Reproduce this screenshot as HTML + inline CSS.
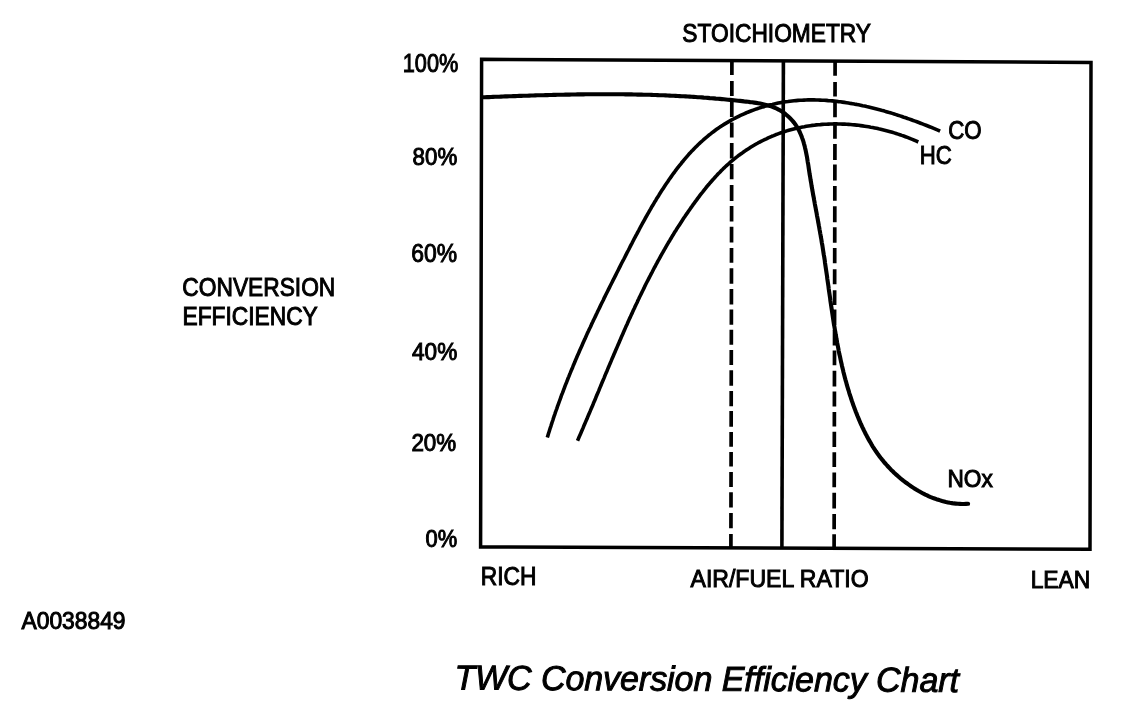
<!DOCTYPE html>
<html><head><meta charset="utf-8"><style>
html,body{margin:0;padding:0;background:#fff;width:1136px;height:716px;overflow:hidden}
svg{display:block;will-change:transform}
text{font-family:"Liberation Sans",sans-serif;fill:#000}
</style></head><body>
<svg width="1136" height="716" viewBox="0 0 1136 716">
<rect width="1136" height="716" fill="#fff"/>
<polygon points="481.6,59.3 1091,62.5 1090,549.3 480.6,547.0" fill="none" stroke="#000" stroke-width="3.5" stroke-linejoin="miter"/>
<line x1="783.4" y1="61" x2="781.9" y2="548" stroke="#000" stroke-width="3.6"/>
<path d="M731.90,61.0 L731.87,75.0 M731.86,81.0 L731.83,96.0 M731.82,101.5 L731.78,117.0 M731.77,122.5 L731.74,137.5 M731.73,143.0 L731.70,158.5 M731.69,164.0 L731.66,179.3 M731.64,185.1 L731.61,201.0 M731.60,206.1 L731.57,221.5 M731.56,226.8 L731.53,242.6 M731.52,248.1 L731.48,262.7 M731.47,268.2 L731.44,283.7 M731.43,289.1 L731.40,304.5 M731.39,309.6 L731.36,324.8 M731.35,329.7 L731.32,344.8 M731.31,350.0 L731.27,364.9 M731.26,370.2 L731.23,385.8 M731.22,391.1 L731.19,406.2 M731.18,411.0 L731.15,426.7 M731.14,431.9 L731.11,446.8 M731.10,452.1 L731.07,466.5 M731.05,472.1 L731.02,486.9 M731.01,492.2 L730.98,507.5 M730.97,513.1 L730.94,528.3 M730.93,534.0 L730.90,547.0" fill="none" stroke="#000" stroke-width="3.7"/>
<path d="M835.10,62.0 L835.07,75.7 M835.06,81.9 L835.03,96.5 M835.02,101.5 L834.99,117.2 M834.98,122.6 L834.94,138.7 M834.93,144.1 L834.90,160.0 M834.89,164.5 L834.86,180.5 M834.84,186.1 L834.81,200.8 M834.80,206.2 L834.77,222.3 M834.76,227.2 L834.73,242.8 M834.72,248.0 L834.69,263.3 M834.67,269.2 L834.64,284.3 M834.63,290.2 L834.60,305.1 M834.59,309.5 L834.56,325.0 M834.55,330.0 L834.52,345.5 M834.51,350.5 L834.48,365.3 M834.46,370.8 L834.43,386.5 M834.42,391.5 L834.39,406.5 M834.38,412.0 L834.35,426.5 M834.34,431.8 L834.31,447.0 M834.30,452.3 L834.27,467.0 M834.26,472.5 L834.22,487.3 M834.21,492.8 L834.18,508.5 M834.17,514.1 L834.14,529.2 M834.13,534.2 L834.10,548.0" fill="none" stroke="#000" stroke-width="3.7"/>
<g fill="none" stroke="#000" stroke-width="3.6" stroke-linecap="butt" stroke-linejoin="round">
<path d="M547.3,437.5 L547.9,435.6 L548.5,433.6 L549.1,431.7 L549.7,429.7 L550.3,427.8 L551.0,425.8 L551.6,423.9 L552.2,422.0 L552.9,420.1 L553.5,418.1 L554.1,416.2 L554.8,414.3 L555.4,412.4 L556.1,410.5 L556.8,408.6 L557.4,406.7 L558.1,404.8 L558.8,402.9 L559.5,401.0 L560.2,399.1 L560.9,397.2 L561.5,395.3 L562.3,393.4 L563.0,391.6 L563.7,389.7 L564.4,387.8 L565.1,385.9 L565.8,384.1 L566.6,382.2 L567.3,380.3 L568.0,378.5 L568.8,376.6 L569.5,374.8 L570.3,372.9 L571.0,371.1 L571.8,369.2 L572.6,367.4 L573.3,365.5 L574.1,363.7 L574.9,361.8 L575.6,360.0 L576.4,358.2 L577.2,356.3 L578.0,354.5 L578.8,352.7 L579.6,350.8 L580.4,349.0 L581.2,347.2 L582.0,345.4 L582.8,343.5 L583.6,341.7 L584.4,339.9 L585.3,338.1 L586.1,336.3 L586.9,334.4 L587.7,332.6 L588.6,330.8 L589.4,329.0 L590.3,327.2 L591.1,325.4 L591.9,323.6 L592.8,321.8 L593.6,320.0 L594.5,318.2 L595.4,316.4 L596.2,314.6 L597.1,312.8 L597.9,311.0 L598.8,309.2 L599.7,307.4 L600.5,305.6 L601.4,303.8 L602.3,302.0 L603.2,300.2 L604.0,298.4 L604.9,296.6 L605.8,294.8 L606.7,293.0 L607.6,291.2 L608.5,289.4 L609.4,287.6 L610.3,285.8 L611.2,284.0 L612.1,282.2 L613.0,280.4 L613.9,278.7 L614.8,276.9 L615.7,275.1 L616.6,273.3 L617.5,271.5 L618.4,269.7 L619.3,267.9 L620.2,266.1 L621.1,264.3 L622.0,262.5 L623.0,260.7 L623.9,259.0 L624.8,257.2 L625.7,255.4 L626.6,253.6 L627.5,251.8 L628.5,250.0 L629.4,248.2 L630.3,246.4 L631.2,244.6 L632.2,242.8 L633.1,241.0 L634.0,239.2 L635.0,237.4 L635.9,235.7 L636.9,233.9 L637.8,232.1 L638.8,230.3 L639.7,228.5 L640.7,226.7 L641.6,225.0 L642.6,223.2 L643.6,221.4 L644.6,219.6 L645.5,217.9 L646.5,216.1 L647.5,214.3 L648.5,212.6 L649.5,210.8 L650.5,209.1 L651.5,207.3 L652.6,205.6 L653.6,203.8 L654.6,202.1 L655.7,200.4 L656.7,198.6 L657.8,196.9 L658.9,195.2 L659.9,193.5 L661.0,191.8 L662.1,190.1 L663.2,188.4 L664.3,186.7 L665.4,185.0 L666.6,183.3 L667.7,181.7 L668.8,180.0 L670.0,178.3 L671.2,176.7 L672.3,175.0 L673.5,173.4 L674.7,171.8 L675.9,170.1 L677.1,168.5 L678.4,166.9 L679.6,165.4 L680.9,163.8 L682.1,162.2 L683.4,160.7 L684.7,159.1 L686.0,157.6 L687.3,156.1 L688.6,154.6 L690.0,153.1 L691.3,151.6 L692.7,150.2 L694.1,148.7 L695.5,147.3 L696.9,145.9 L698.3,144.5 L699.8,143.1 L701.2,141.8 L702.7,140.5 L704.2,139.1 L705.7,137.8 L707.2,136.6 L708.7,135.3 L710.3,134.1 L711.8,132.9 L713.4,131.7 L715.0,130.5 L716.6,129.3 L718.2,128.2 L719.9,127.1 L721.5,126.0 L723.2,124.9 L724.9,123.9 L726.6,122.9 L728.3,121.9 L730.0,120.9 L731.7,119.9 L733.4,119.0 L735.2,118.1 L737.0,117.2 L738.7,116.3 L740.5,115.4 L742.3,114.6 L744.1,113.8 L745.9,113.0 L747.8,112.2 L749.6,111.5 L751.5,110.8 L753.3,110.1 L755.2,109.4 L757.1,108.8 L758.9,108.1 L760.8,107.5 L762.7,106.9 L764.6,106.4 L766.5,105.8 L768.5,105.3 L770.4,104.8 L772.3,104.4 L774.3,103.9 L776.2,103.5 L778.2,103.1 L780.1,102.7 L782.1,102.4 L784.1,102.0 L786.0,101.7 L788.0,101.5 L790.0,101.2 L792.0,101.0 L794.0,100.8 L796.0,100.6 L798.0,100.4 L800.0,100.3 L802.0,100.2 L804.0,100.1 L806.0,100.0 L808.0,99.9 L810.0,99.9 L812.0,99.9 L814.1,99.9 L816.1,100.0 L818.1,100.0 L820.1,100.1 L822.1,100.2 L824.2,100.3 L826.2,100.4 L828.2,100.6 L830.3,100.7 L832.3,100.9 L834.3,101.1 L836.3,101.3 L838.4,101.6 L840.4,101.8 L842.4,102.1 L844.4,102.4 L846.5,102.7 L848.5,103.0 L850.5,103.4 L852.5,103.7 L854.6,104.1 L856.6,104.4 L858.6,104.8 L860.6,105.2 L862.6,105.7 L864.6,106.1 L866.6,106.6 L868.6,107.0 L870.6,107.5 L872.6,108.0 L874.6,108.5 L876.6,109.0 L878.5,109.5 L880.5,110.0 L882.5,110.6 L884.5,111.1 L886.4,111.7 L888.4,112.3 L890.3,112.8 L892.3,113.4 L894.2,114.0 L896.1,114.6 L898.0,115.3 L900.0,115.9 L901.9,116.5 L903.8,117.2 L905.7,117.8 L907.6,118.5 L909.5,119.1 L911.3,119.8 L913.2,120.5 L915.1,121.1 L916.9,121.8 L918.8,122.5 L920.6,123.2 L922.4,123.9 L924.2,124.6 L926.0,125.3 L927.8,126.0 L929.6,126.7 L931.4,127.4 L933.2,128.2 L934.9,128.9 L936.7,129.6 L938.4,130.3 L940.1,131.1"/>
<path d="M577.5,440.7 L578.3,438.9 L579.1,437.0 L579.9,435.2 L580.7,433.4 L581.5,431.6 L582.3,429.8 L583.1,427.9 L583.8,426.1 L584.6,424.3 L585.4,422.4 L586.2,420.6 L587.0,418.8 L587.7,416.9 L588.5,415.1 L589.3,413.3 L590.1,411.4 L590.8,409.6 L591.6,407.7 L592.4,405.9 L593.2,404.0 L593.9,402.2 L594.7,400.4 L595.5,398.5 L596.2,396.7 L597.0,394.8 L597.8,393.0 L598.6,391.1 L599.3,389.3 L600.1,387.4 L600.9,385.6 L601.6,383.7 L602.4,381.8 L603.2,380.0 L604.0,378.1 L604.7,376.3 L605.5,374.4 L606.3,372.6 L607.1,370.7 L607.8,368.9 L608.6,367.0 L609.4,365.1 L610.2,363.3 L611.0,361.4 L611.7,359.6 L612.5,357.7 L613.3,355.9 L614.1,354.0 L614.9,352.2 L615.7,350.3 L616.5,348.5 L617.3,346.6 L618.1,344.7 L618.9,342.9 L619.7,341.0 L620.5,339.2 L621.3,337.3 L622.1,335.5 L622.9,333.7 L623.7,331.8 L624.5,330.0 L625.3,328.1 L626.1,326.3 L627.0,324.4 L627.8,322.6 L628.6,320.8 L629.4,318.9 L630.3,317.1 L631.1,315.2 L632.0,313.4 L632.8,311.6 L633.6,309.8 L634.5,307.9 L635.3,306.1 L636.2,304.3 L637.1,302.4 L637.9,300.6 L638.8,298.8 L639.6,297.0 L640.5,295.2 L641.4,293.4 L642.3,291.5 L643.2,289.7 L644.1,287.9 L644.9,286.1 L645.8,284.3 L646.7,282.5 L647.7,280.7 L648.6,278.9 L649.5,277.1 L650.4,275.4 L651.3,273.6 L652.3,271.8 L653.2,270.0 L654.1,268.2 L655.1,266.5 L656.0,264.7 L657.0,262.9 L657.9,261.1 L658.9,259.4 L659.9,257.6 L660.8,255.9 L661.8,254.1 L662.8,252.4 L663.8,250.6 L664.8,248.9 L665.8,247.1 L666.8,245.4 L667.8,243.7 L668.8,241.9 L669.9,240.2 L670.9,238.5 L671.9,236.8 L673.0,235.1 L674.0,233.3 L675.1,231.6 L676.2,229.9 L677.2,228.2 L678.3,226.6 L679.4,224.9 L680.5,223.2 L681.6,221.5 L682.7,219.8 L683.8,218.1 L684.9,216.5 L686.0,214.8 L687.2,213.2 L688.3,211.5 L689.4,209.9 L690.6,208.2 L691.8,206.6 L692.9,204.9 L694.1,203.3 L695.3,201.7 L696.5,200.1 L697.7,198.4 L698.9,196.8 L700.1,195.2 L701.3,193.6 L702.6,192.1 L703.8,190.5 L705.1,188.9 L706.3,187.3 L707.6,185.8 L708.9,184.3 L710.2,182.7 L711.5,181.2 L712.8,179.7 L714.2,178.2 L715.5,176.7 L716.9,175.3 L718.2,173.8 L719.6,172.4 L721.0,170.9 L722.5,169.5 L723.9,168.1 L725.3,166.8 L726.8,165.4 L728.3,164.1 L729.8,162.7 L731.3,161.4 L732.8,160.2 L734.3,158.9 L735.9,157.6 L737.5,156.4 L739.0,155.2 L740.7,154.0 L742.3,152.9 L743.9,151.7 L745.6,150.6 L747.2,149.5 L748.9,148.4 L750.6,147.3 L752.3,146.3 L754.0,145.3 L755.7,144.3 L757.5,143.3 L759.2,142.3 L761.0,141.4 L762.8,140.5 L764.6,139.6 L766.4,138.8 L768.2,137.9 L770.0,137.1 L771.8,136.3 L773.7,135.6 L775.5,134.8 L777.4,134.1 L779.3,133.4 L781.1,132.7 L783.0,132.1 L784.9,131.5 L786.8,130.9 L788.8,130.3 L790.7,129.8 L792.6,129.3 L794.6,128.8 L796.5,128.3 L798.5,127.9 L800.4,127.4 L802.4,127.0 L804.4,126.7 L806.3,126.3 L808.3,126.0 L810.3,125.7 L812.3,125.4 L814.3,125.2 L816.3,124.9 L818.3,124.7 L820.3,124.6 L822.3,124.4 L824.3,124.3 L826.3,124.2 L828.4,124.1 L830.4,124.0 L832.4,124.0 L834.4,123.9 L836.4,123.9 L838.5,124.0 L840.5,124.0 L842.5,124.1 L844.5,124.1 L846.6,124.3 L848.6,124.4 L850.6,124.5 L852.6,124.7 L854.6,124.9 L856.7,125.1 L858.7,125.3 L860.7,125.6 L862.7,125.9 L864.7,126.2 L866.7,126.5 L868.7,126.8 L870.7,127.2 L872.7,127.5 L874.7,127.9 L876.6,128.3 L878.6,128.8 L880.6,129.2 L882.6,129.7 L884.5,130.2 L886.5,130.7 L888.4,131.2 L890.3,131.7 L892.3,132.3 L894.2,132.9 L896.1,133.5 L898.0,134.1 L899.9,134.7 L901.8,135.4 L903.7,136.0 L905.5,136.7 L907.4,137.4 L909.2,138.1 L911.1,138.9 L912.9,139.6 L914.7,140.4 L916.5,141.2 L918.3,142.0"/>
<path d="M482.9,97.3 L484.9,97.2 L487.0,97.1 L489.0,97.1 L491.0,97.0 L493.0,96.9 L495.0,96.8 L497.1,96.7 L499.1,96.7 L501.1,96.6 L503.1,96.5 L505.1,96.4 L507.1,96.4 L509.2,96.3 L511.2,96.2 L513.2,96.1 L515.2,96.1 L517.2,96.0 L519.2,95.9 L521.2,95.9 L523.3,95.8 L525.3,95.7 L527.3,95.7 L529.3,95.6 L531.3,95.5 L533.3,95.5 L535.3,95.4 L537.3,95.3 L539.3,95.3 L541.4,95.2 L543.4,95.2 L545.4,95.1 L547.4,95.1 L549.4,95.0 L551.4,95.0 L553.4,94.9 L555.4,94.9 L557.4,94.8 L559.4,94.8 L561.4,94.7 L563.4,94.7 L565.4,94.6 L567.4,94.6 L569.5,94.6 L571.5,94.5 L573.5,94.5 L575.5,94.5 L577.5,94.4 L579.5,94.4 L581.5,94.4 L583.5,94.4 L585.5,94.3 L587.5,94.3 L589.5,94.3 L591.5,94.3 L593.5,94.3 L595.5,94.3 L597.5,94.2 L599.5,94.2 L601.5,94.2 L603.5,94.2 L605.5,94.2 L607.5,94.2 L609.5,94.2 L611.5,94.2 L613.5,94.3 L615.5,94.3 L617.5,94.3 L619.5,94.3 L621.5,94.3 L623.5,94.3 L625.5,94.4 L627.6,94.4 L629.6,94.4 L631.6,94.4 L633.6,94.5 L635.6,94.5 L637.6,94.6 L639.6,94.6 L641.6,94.6 L643.6,94.7 L645.6,94.7 L647.6,94.8 L649.6,94.8 L651.6,94.9 L653.6,95.0 L655.6,95.0 L657.6,95.1 L659.6,95.2 L661.6,95.3 L663.6,95.3 L665.6,95.4 L667.6,95.5 L669.6,95.6 L671.6,95.7 L673.7,95.8 L675.7,95.9 L677.7,96.0 L679.7,96.1 L681.7,96.2 L683.7,96.3 L685.7,96.4 L687.7,96.5 L689.7,96.6 L691.7,96.8 L693.7,96.9 L695.7,97.0 L697.8,97.2 L699.8,97.3 L701.8,97.4 L703.8,97.6 L705.8,97.7 L707.8,97.9 L709.8,98.1 L711.8,98.2 L713.8,98.4 L715.9,98.6 L717.9,98.7 L719.9,98.9 L721.9,99.1 L723.9,99.3 L725.9,99.5 L728.0,99.7 L730.0,99.9 L732.0,100.1 L734.0,100.3 L736.0,100.5 L738.0,100.7 L740.1,100.9 L742.1,101.1 L744.1,101.4 L746.1,101.6 L748.1,101.8 L750.2,102.1 L752.2,102.3 L754.2,102.6 L756.2,102.9 L758.2,103.2 L760.2,103.6 L762.2,104.0 L764.1,104.4 L766.1,104.9 L768.0,105.4 L769.9,105.9 L771.8,106.6 L773.6,107.3 L775.4,108.0 L777.2,108.9 L779.0,109.8 L780.7,110.8 L782.4,111.9 L784.0,113.0 L785.6,114.2 L787.1,115.5 L788.6,116.8 L790.1,118.2 L791.4,119.6 L792.8,121.1 L794.0,122.6 L795.2,124.2 L796.3,125.8 L797.3,127.5 L798.3,129.2 L799.2,130.9 L800.0,132.7 L800.8,134.5 L801.6,136.3 L802.2,138.1 L802.9,140.0 L803.5,141.9 L804.0,143.8 L804.6,145.8 L805.0,147.7 L805.5,149.7 L805.9,151.7 L806.3,153.7 L806.7,155.7 L807.1,157.7 L807.4,159.7 L807.7,161.8 L808.1,163.8 L808.4,165.8 L808.7,167.9 L809.0,169.9 L809.3,171.9 L809.6,174.0 L810.0,176.0 L810.3,178.0 L810.6,180.0 L811.0,182.0 L811.3,184.0 L811.6,186.0 L812.0,188.0 L812.3,190.0 L812.7,192.0 L813.0,194.0 L813.4,196.0 L813.8,197.9 L814.1,199.9 L814.5,201.9 L814.8,203.8 L815.2,205.8 L815.6,207.8 L815.9,209.7 L816.3,211.7 L816.7,213.7 L817.0,215.6 L817.4,217.6 L817.8,219.6 L818.1,221.5 L818.5,223.5 L818.8,225.4 L819.2,227.4 L819.5,229.3 L819.9,231.3 L820.2,233.3 L820.6,235.2 L820.9,237.2 L821.3,239.1 L821.6,241.1 L821.9,243.1 L822.3,245.0 L822.6,247.0 L822.9,249.0 L823.2,251.0 L823.5,252.9 L823.8,254.9 L824.2,256.9 L824.5,258.9 L824.8,260.8 L825.0,262.8 L825.3,264.8 L825.6,266.8 L825.9,268.8 L826.2,270.8 L826.5,272.8 L826.8,274.7 L827.1,276.7 L827.3,278.7 L827.6,280.7 L827.9,282.7 L828.2,284.7 L828.5,286.7 L828.7,288.7 L829.0,290.7 L829.3,292.7 L829.6,294.7 L829.9,296.7 L830.2,298.7 L830.4,300.7 L830.7,302.7 L831.0,304.6 L831.3,306.6 L831.6,308.6 L831.9,310.6 L832.2,312.6 L832.5,314.6 L832.8,316.6 L833.1,318.6 L833.4,320.6 L833.7,322.6 L834.0,324.6 L834.4,326.6 L834.7,328.5 L835.0,330.5 L835.4,332.5 L835.7,334.5 L836.1,336.5 L836.4,338.5 L836.8,340.4 L837.1,342.4 L837.5,344.4 L837.9,346.4 L838.3,348.4 L838.6,350.3 L839.0,352.3 L839.4,354.3 L839.9,356.2 L840.3,358.2 L840.7,360.1 L841.1,362.1 L841.6,364.1 L842.0,366.0 L842.5,368.0 L843.0,369.9 L843.4,371.9 L843.9,373.8 L844.4,375.7 L844.9,377.7 L845.4,379.6 L846.0,381.6 L846.5,383.5 L847.0,385.4 L847.6,387.3 L848.2,389.3 L848.8,391.2 L849.3,393.1 L849.9,395.0 L850.6,396.9 L851.2,398.8 L851.8,400.7 L852.5,402.6 L853.1,404.5 L853.8,406.4 L854.5,408.2 L855.2,410.1 L855.9,412.0 L856.7,413.9 L857.4,415.7 L858.2,417.6 L858.9,419.4 L859.7,421.3 L860.5,423.1 L861.4,425.0 L862.2,426.8 L863.1,428.6 L863.9,430.4 L864.8,432.2 L865.7,434.0 L866.7,435.8 L867.6,437.6 L868.6,439.4 L869.6,441.1 L870.6,442.8 L871.6,444.6 L872.6,446.3 L873.7,448.0 L874.8,449.6 L875.9,451.3 L877.1,453.0 L878.2,454.6 L879.4,456.2 L880.6,457.8 L881.9,459.4 L883.2,460.9 L884.4,462.5 L885.8,464.0 L887.1,465.5 L888.5,467.0 L889.8,468.4 L891.2,469.9 L892.7,471.3 L894.1,472.7 L895.6,474.1 L897.1,475.4 L898.6,476.7 L900.1,478.1 L901.7,479.3 L903.3,480.6 L904.9,481.8 L906.5,483.0 L908.1,484.2 L909.8,485.4 L911.4,486.5 L913.1,487.6 L914.8,488.7 L916.5,489.8 L918.2,490.8 L920.0,491.8 L921.7,492.7 L923.5,493.7 L925.3,494.6 L927.1,495.4 L928.9,496.3 L930.8,497.1 L932.6,497.8 L934.5,498.5 L936.4,499.2 L938.3,499.8 L940.2,500.4 L942.1,501.0 L944.0,501.5 L946.0,502.0 L947.9,502.4 L949.9,502.8 L951.9,503.1 L953.8,503.4 L955.8,503.6 L957.9,503.8 L959.9,503.9 L961.9,504.0 L964.0,504.0 L966.0,503.9 L968.1,503.8" stroke-linecap="round" stroke-width="4.1"/>
</g>
<text transform="translate(682.36,42.25) scale(0.9074,1)" font-size="25.07" stroke="#000" stroke-width="1.0" >STOICHIOMETRY</text>
<text transform="translate(402.76,72.25) scale(0.8568,1)" font-size="25.35" stroke="#000" stroke-width="1.0" >100%</text>
<text transform="translate(412.61,165.06) scale(0.9416,1)" font-size="23.66" stroke="#000" stroke-width="1.0" >80%</text>
<text transform="translate(411.35,262.25) scale(0.9039,1)" font-size="25.35" stroke="#000" stroke-width="1.0" >60%</text>
<text transform="translate(412.05,360.26) scale(0.9424,1)" font-size="23.94" stroke="#000" stroke-width="1.0" >40%</text>
<text transform="translate(411.38,450.77) scale(0.9637,1)" font-size="23.24" stroke="#000" stroke-width="1.0" >20%</text>
<text transform="translate(425.62,547.26) scale(0.9146,1)" font-size="23.94" stroke="#000" stroke-width="1.0" >0%</text>
<text transform="translate(182.36,296.44) scale(0.888,1)" font-size="25.63" stroke="#000" stroke-width="1.0" >CONVERSION</text>
<text transform="translate(182.48,324.65) scale(0.9084,1)" font-size="25.07" stroke="#000" stroke-width="1.0" >EFFICIENCY</text>
<text transform="translate(480.68,585.05) scale(0.9097,1)" font-size="25.07" stroke="#000" stroke-width="1.0" >RICH</text>
<text transform="translate(690.5,587.26) scale(0.9487,1)" font-size="24.32" stroke="#000" stroke-width="1.0" >AIR/FUEL RATIO</text>
<text transform="translate(1030.67,587.5) scale(0.9277,1)" font-size="24.64" stroke="#000" stroke-width="1.0" >LEAN</text>
<text transform="translate(21.5,628.77) scale(0.9827,1)" font-size="23.24" stroke="#000" stroke-width="1.0" >A0038849</text>
<text transform="rotate(0.28 709 681) translate(454.45,690.74) scale(0.9803,1)" font-size="34.57" stroke="#000" stroke-width="1.0" font-style="italic">TWC Conversion Efficiency Chart</text>
<text transform="translate(948.19,139.05) scale(0.8889,1)" font-size="25.07" stroke="#000" stroke-width="1.0" >CO</text>
<text transform="translate(919.72,164.24) scale(0.8519,1)" font-size="26.06" stroke="#000" stroke-width="1.0" >HC</text>
<text transform="translate(947.49,486.75) scale(0.9198,1)" font-size="24.65" stroke="#000" stroke-width="1.0" >NOx</text>
</svg>
</body></html>
